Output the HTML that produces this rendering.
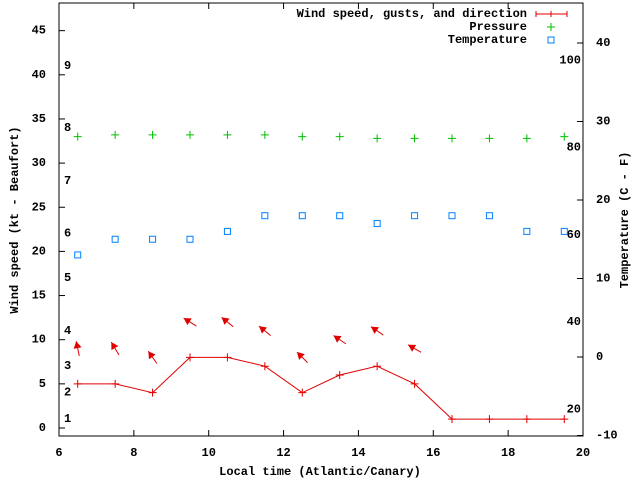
<!DOCTYPE html>
<html><head><meta charset="utf-8"><style>
body{margin:0;background:#fff}
svg text{font-family:"Liberation Mono",monospace;font-size:12px;font-weight:bold;fill:#000}
</style></head><body>
<svg id="chart" width="640" height="480" viewBox="0 0 640 480" xmlns="http://www.w3.org/2000/svg"></svg>
<script>
const hours=[6.5,7.5,8.5,9.5,10.5,11.5,12.5,13.5,14.5,15.5,16.5,17.5,18.5,19.5];
const windKt=[5,5,4,8,8,7,4,6,7,5,1,1,1,1];
const gustKt=[9,9,8,12,12,11,8,10,11,9];
const dirDeg=[348,329,325,302,309,309,315,304,304,300];
const pressure=[33,33.2,33.2,33.2,33.2,33.2,33,33,32.8,32.8,32.8,32.8,32.8,33];
const tempC=[13,15,15,15,16,18,18,18,17,18,18,18,16,16];
const xTicks=[6,8,10,12,14,16,18,20];
const yTicks=[0,5,10,15,20,25,30,35,40,45];
const y2Ticks=[-10,0,10,20,30,40];
const beaufortKt=[1,4,7,11,17,22,28,34,41];
const fLabels=[100,80,60,40,20];

const NS="http://www.w3.org/2000/svg",svg=document.getElementById('chart');
const L=59,R=583,T=3,B=436;
const X=h=>L+(h-6)*(R-L)/14;
const Y=v=>428-8.83*v;
const Y2=v=>357-7.85*v;
function mk(tag,a,parent){const e=document.createElementNS(NS,tag);for(const k in a)e.setAttribute(k,a[k]);(parent||svg).appendChild(e);return e;}
function txt(x,y,s,anchor){const e=mk('text',{x:x,y:y,'text-anchor':anchor||'start','dominant-baseline':'central'});e.textContent=s;return e;}

const frame=mk('rect',{x:L,y:T,width:R-L,height:B-T,fill:'none',stroke:'#000','stroke-width':1});



xTicks.forEach(h=>{
  const x=X(h);
  mk('line',{x1:x,y1:B,x2:x,y2:B-6,stroke:'#000'});
  mk('line',{x1:x,y1:T,x2:x,y2:T+6,stroke:'#000'});
  const t=txt(x,453,String(h),'middle');
  
  
});
yTicks.forEach(v=>{
  mk('line',{x1:L,y1:Y(v),x2:L+6,y2:Y(v),stroke:'#000'});
  const t=txt(46,Y(v),String(v),'end');
  
  
});
y2Ticks.forEach(v=>{
  mk('line',{x1:R,y1:Y2(v),x2:R-6,y2:Y2(v),stroke:'#000'});
  const t=txt(596,Y2(v),String(v),'start');
  
  
});
beaufortKt.forEach((k,i)=>{
  const t=txt(64,Y(k),String(i+1),'start');
  
  
});
fLabels.forEach(f=>{
  const t=txt(581,Y2((f-32)*5/9),String(f),'end');
  
  
});

// titles
let t=txt(320,472,'Local time (Atlantic/Canary)','middle');


t=mk('text',{x:0,y:0,'text-anchor':'middle','dominant-baseline':'central',transform:'translate(15,220) rotate(-90)'});
t.textContent='Wind speed (kt - Beaufort)';


t=mk('text',{x:0,y:0,'text-anchor':'middle','dominant-baseline':'central',transform:'translate(625,220) rotate(-90)'});
t.textContent='Temperature (C - F)';



// wind line
const wl=mk('polyline',{points:hours.map((h,i)=>X(h)+','+Y(windKt[i])).join(' '),fill:'none',stroke:'#e00000','stroke-width':1});


hours.forEach((h,i)=>{
  const x=X(h),y=Y(windKt[i]);
  const p=mk('path',{d:`M${x-4},${y}H${x+4}M${x},${y-4}V${y+4}`,stroke:'#e00000'});
  
  
});
// direction arrows
gustKt.forEach((g,i)=>{
  const cx=X(hours[i]),cy=Y(g),a=dirDeg[i]*Math.PI/180,len=15;
  const dx=Math.sin(a),dy=-Math.cos(a);
  const hx=cx+dx*len/2,hy=cy+dy*len/2,tx=cx-dx*len/2,ty=cy-dy*len/2;
  const px=-dy,py=dx;
  const g2=mk('g',{});
  
  
  mk('line',{x1:tx,y1:ty,x2:hx,y2:hy,stroke:'#e00000'},g2);
  const bx=hx-dx*7,by=hy-dy*7;
  mk('polygon',{points:`${hx},${hy} ${bx+px*4},${by+py*4} ${bx-px*4},${by-py*4}`,fill:'#e00000'},g2);
});
// pressure
hours.forEach((h,i)=>{
  const x=X(h),y=Y(pressure[i]);
  const p=mk('path',{d:`M${x-4},${y}H${x+4}M${x},${y-4}V${y+4}`,stroke:'#00c000'});
  
  
});
// temperature
hours.forEach((h,i)=>{
  const x=X(h),y=Y2(tempC[i]);
  const p=mk('rect',{x:x-3,y:y-3,width:6,height:6,fill:'none',stroke:'#0080ff'});
  
  
});
// legend
const lg=mk('g',{});


[['Wind speed, gusts, and direction',14],['Pressure',27],['Temperature',40]].forEach(([s,y])=>{
  const e=mk('text',{x:527,y:y,'text-anchor':'end','dominant-baseline':'central'},lg);e.textContent=s;
});
mk('path',{d:'M536,14H567M536,11V17M551,11V17M567,11V17',stroke:'#e00000'},lg);
mk('path',{d:'M547,27H555M551,23V31',stroke:'#00c000'},lg);
mk('rect',{x:548,y:37,width:6,height:6,fill:'none',stroke:'#0080ff'},lg);
</script>
</body></html>
